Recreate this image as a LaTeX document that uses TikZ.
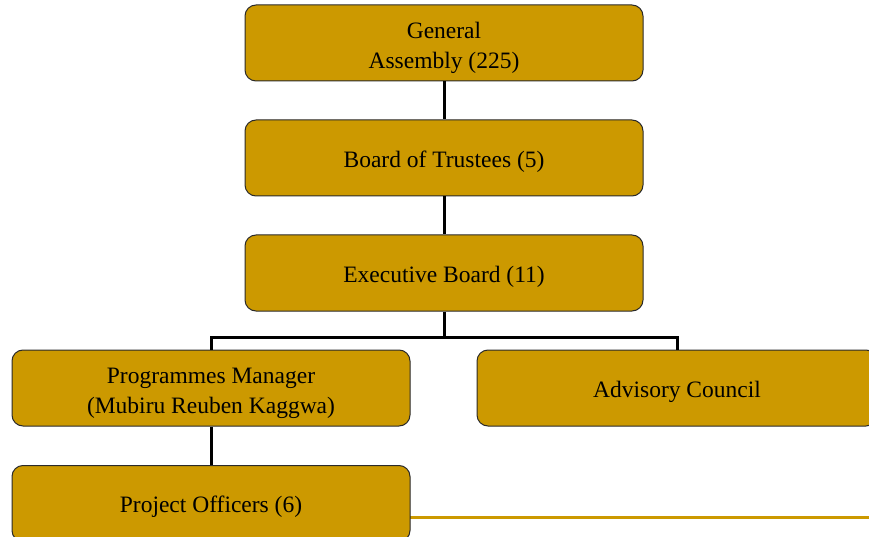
\documentclass[tikz,border=0pt]{standalone}
\usepackage{fontspec}
\setmainfont{Liberation Serif}
\definecolor{boxgold}{HTML}{CC9900}
\definecolor{boxedge}{HTML}{2A2A2A}
\begin{document}
\begin{tikzpicture}[x=1pt,y=-1pt,
  orgbox/.style={draw=boxedge, line width=1pt, fill=boxgold, rounded corners=11pt,
    minimum width=398pt, minimum height=76pt, inner sep=0pt},
  boxtext/.style={font=\fontsize{23.5}{30}\selectfont, inner sep=0pt, align=center},
  link/.style={draw=black, line width=3pt}]
  \useasboundingbox (0,0) rectangle (869,537);
  \begin{scope}
    \clip (0,0) rectangle (869,537);
    % gold rule along the bottom
    \draw[boxgold, line width=3pt] (410,517) -- (869,517);
    \node[orgbox] (ga) at (444,43) {};
    \node[orgbox] (bt) at (444,158) {};
    \node[orgbox] (eb) at (444,273) {};
    \node[orgbox] (pm) at (211,388) {};
    \node[orgbox, minimum width=400pt] (ac) at (677,388) {};
    \node[orgbox, anchor=north] (po) at (211,465) {};
    \node[boxtext] (gatext) at (444,48) {General\\Assembly (225)};
    \node[boxtext] (bttext) at (444,162) {Board of Trustees (5)};
    \node[boxtext] (ebtext) at (444,277) {Executive Board (11)};
    \node[boxtext] (pmtext) at (211,393) {Programmes Manager\\(Mubiru Reuben Kaggwa)};
    \node[boxtext] (actext) at (677,392) {Advisory Council};
    \node[boxtext] (potext) at (211,507) {Project Officers (6)};
  \end{scope}
  \coordinate (fork) at (444,337);
  \draw[link] (ga.south) -- (bt.north);
  \draw[link] (bt.south) -- (eb.north);
  \draw[link] (eb.south) -- (fork) -| (pm.north);
  \draw[link] (fork) -| (ac.north);
  \draw[link] (pm.south) -- (po.north);
\end{tikzpicture}
\end{document}
